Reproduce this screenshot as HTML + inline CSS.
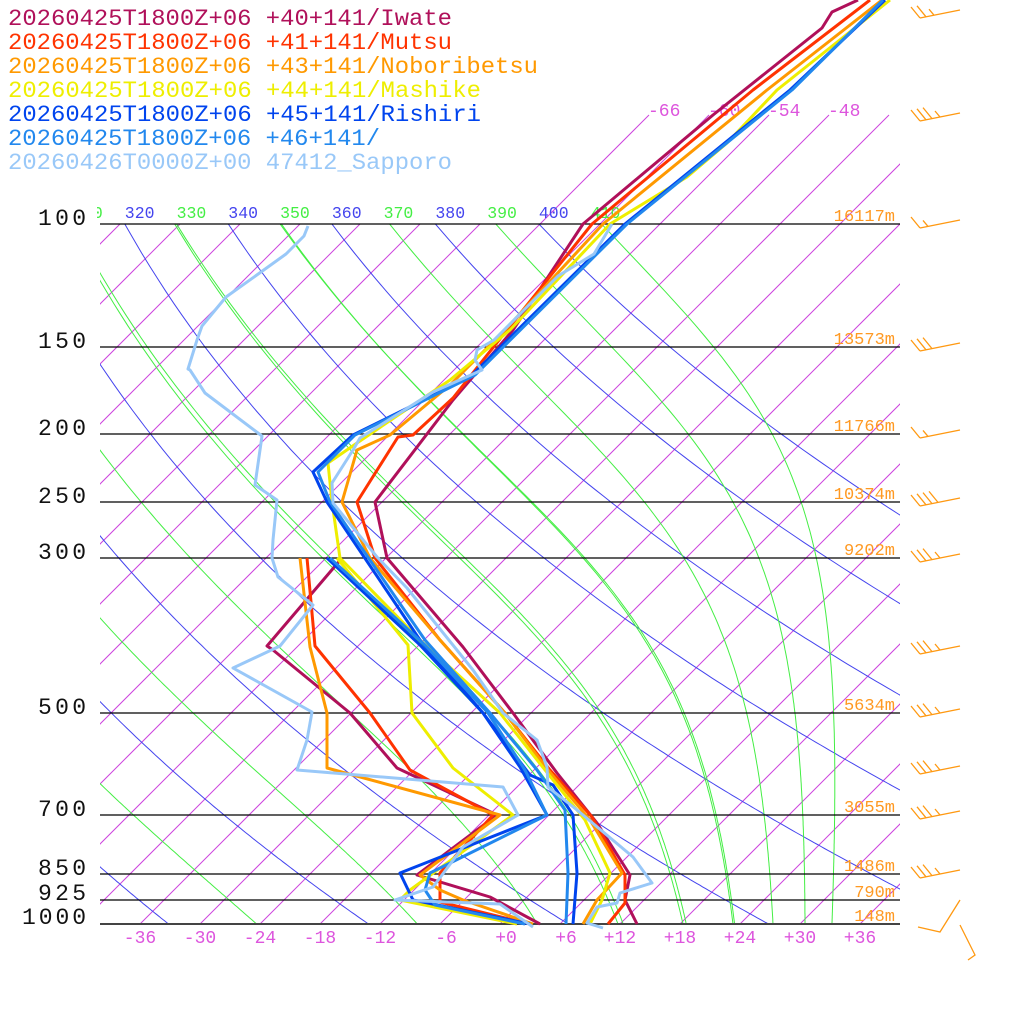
<!DOCTYPE html>
<html><head><meta charset="utf-8">
<style>
html,body{margin:0;padding:0;background:#fff;}
svg{display:block;}
text{font-family:"Liberation Mono","DejaVu Sans Mono",monospace;}
</style></head>
<body>
<svg id="s" width="1024" height="1024" viewBox="0 0 1024 1024" xmlns="http://www.w3.org/2000/svg">
<defs>
<clipPath id="plot"><rect x="100" y="224" width="800" height="700"/></clipPath>
<clipPath id="plotIso"><rect x="100" y="110" width="800" height="814"/></clipPath>
<clipPath id="thl"><rect x="97" y="190" width="803" height="40"/></clipPath>
</defs>
<g id="grid"></g>
<g id="hl" stroke="#000" stroke-width="1.3">
<line x1="100" y1="224" x2="900" y2="224"/>
<line x1="100" y1="347" x2="900" y2="347"/>
<line x1="100" y1="434" x2="900" y2="434"/>
<line x1="100" y1="502" x2="900" y2="502"/>
<line x1="100" y1="558" x2="900" y2="558"/>
<line x1="100" y1="713" x2="900" y2="713"/>
<line x1="100" y1="815" x2="900" y2="815"/>
<line x1="100" y1="874" x2="900" y2="874"/>
<line x1="100" y1="900" x2="900" y2="900"/>
<line x1="100" y1="924" x2="900" y2="924" stroke="#444" stroke-width="2"/>
</g>
<g font-size="23" fill="#111" lengthAdjust="spacingAndGlyphs">
<text x="38" y="225" textLength="48">100</text>
<text x="38" y="348" textLength="48">150</text>
<text x="38" y="435" textLength="48">200</text>
<text x="38" y="503" textLength="48">250</text>
<text x="38" y="559" textLength="48">300</text>
<text x="38" y="714" textLength="48">500</text>
<text x="38" y="816" textLength="48">700</text>
<text x="38" y="875" textLength="48">850</text>
<text x="38" y="900" textLength="48">925</text>
<text x="22" y="924" textLength="64">1000</text>
</g>
<g font-size="18" fill="#dd55dd" text-anchor="middle">
<text x="140" y="943">-36</text><text x="200" y="943">-30</text><text x="260" y="943">-24</text>
<text x="320" y="943">-18</text><text x="380" y="943">-12</text><text x="446" y="943">-6</text>
<text x="506" y="943">+0</text><text x="566" y="943">+6</text><text x="620" y="943">+12</text>
<text x="680" y="943">+18</text><text x="740" y="943">+24</text><text x="800" y="943">+30</text>
<text x="860" y="943">+36</text>
</g>
<g font-size="18" fill="#dd55dd">
<text x="648" y="116">-66</text><text x="708" y="116">-60</text><text x="768" y="116">-54</text><text x="828" y="116">-48</text>
</g>
<g font-size="17" fill="#ff9922" text-anchor="end">
<text x="895" y="221">16117m</text><text x="895" y="344">13573m</text><text x="895" y="431">11766m</text>
<text x="895" y="499">10374m</text><text x="895" y="555">9202m</text><text x="895" y="710">5634m</text>
<text x="895" y="812">3055m</text><text x="895" y="871">1486m</text><text x="895" y="897">790m</text>
<text x="895" y="921">148m</text>
</g>
<g id="traces" fill="none" stroke-width="3" stroke-linejoin="round"></g>
<g id="barbs" stroke="#ff9911" stroke-width="1.3" fill="none"></g>
<g font-size="23">
<text x="8" y="25" fill="#b0105a" textLength="444" lengthAdjust="spacingAndGlyphs">20260425T1800Z+06 +40+141/Iwate</text>
<text x="8" y="49" fill="#ff3300" textLength="444" lengthAdjust="spacingAndGlyphs">20260425T1800Z+06 +41+141/Mutsu</text>
<text x="8" y="73" fill="#ff9900" textLength="530" lengthAdjust="spacingAndGlyphs">20260425T1800Z+06 +43+141/Noboribetsu</text>
<text x="8" y="97" fill="#eeee00" textLength="473" lengthAdjust="spacingAndGlyphs">20260425T1800Z+06 +44+141/Mashike</text>
<text x="8" y="121" fill="#0044ee" textLength="473" lengthAdjust="spacingAndGlyphs">20260425T1800Z+06 +45+141/Rishiri</text>
<text x="8" y="145" fill="#2288ee" textLength="372" lengthAdjust="spacingAndGlyphs">20260425T1800Z+06 +46+141/</text>
<text x="8" y="169" fill="#99c8f8" textLength="444" lengthAdjust="spacingAndGlyphs">20260426T0000Z+00 47412_Sapporo</text>
</g>
</svg>
<script>
(function(){
var NS="http://www.w3.org/2000/svg";
function el(tag,attrs,parent){var e=document.createElementNS(NS,tag);for(var k in attrs)e.setAttribute(k,attrs[k]);parent.appendChild(e);return e;}
function Y(p){return 924-304*Math.log(1000/p);}
function X(T,p){return 500+10*T+304*Math.log(1000/p);}
var grid=document.getElementById('grid');
var gi=el('g',{'clip-path':'url(#plotIso)',stroke:'#cc44dd','stroke-width':'1',fill:'none'},grid);
for(var T=-150;T<=40;T+=6){
  var ytop=(T>=-66)?115:224;
  var x1=500+10*T, y1=924, x2=x1+(924-ytop), y2=ytop;
  el('line',{x1:x1,y1:y1,x2:x2,y2:y2},gi);
}
var gd=el('g',{'clip-path':'url(#plot)','stroke-width':'1',fill:'none'},grid);
var gl=el('g',{'clip-path':'url(#thl)','font-size':'16.5'},grid);
function es(Tc){return 6.112*Math.exp(17.67*Tc/(Tc+243.5));}
function dTdp(Tk,p){var e=es(Tk-273.15),rs=0.622*e/(p-e);return (287*Tk+2.5e6*rs)/(1004+2.5e6*2.5e6*rs*0.622/(287*Tk*Tk))/p;}
for(var th=200;th<=400;th+=20){
  var pts=[];
  for(var p=1000;p>=99.9;p-=5){var Tk=th*Math.pow(p/1000,0.286);pts.push(X(Tk-273.15,p).toFixed(1)+','+Y(p).toFixed(1));}
  el('polyline',{points:pts.join(' '),stroke:'#4444ee'},gd);
}
for(var th=190;th<=350;th+=20){
  var Tk=th*Math.pow(0.1,0.286),p=100,pts=[];
  while(p<=1000){
    if(Math.round(p)%5==0)pts.push(X(Tk-273.15,p).toFixed(1)+','+Y(p).toFixed(1));
    Tk+=dTdp(Tk,p);p+=1;
  }
  el('polyline',{points:pts.join(' '),stroke:'#44ee44'},gd);
}
[11.8,18.3,23.3,27.3,30.5,33.2].forEach(function(T0){
  var Tk=T0+273.15,pts=[],p=1000;
  while(p>=100){
    if(Math.round(p)%5==0)pts.push(X(Tk-273.15,p).toFixed(1)+','+Y(p).toFixed(1));
    Tk-=dTdp(Tk,p);p-=1;
  }
  el('polyline',{points:pts.join(' '),stroke:'#44ee44'},gd);
});
for(var th=310;th<=410;th+=10){
  var xl=X(th*Math.pow(0.1,0.286)-273.15,100);
  var col=((th/10)%2==0)?'#4444ee':'#44ee44';
  var t=el('text',{x:xl.toFixed(1),y:218,fill:col},gl);t.textContent=String(th);
}
var tr=document.getElementById('traces');
var S=[
 ['#b0105a',[[858,0],[832,12],[822,28],[713,115],[583,224],[513,330],[453,400],[375,502],[387,558],[463,647],[513,713],[557,773],[597,823],[630,875],[625,900],[637,924]],
   [[342,558],[267,646],[273,650],[350,713],[397,768],[497,815],[417,875],[490,897],[540,924]]],
 ['#ff3300',[[870,0],[753,90],[592,224],[507,330],[453,398],[413,435],[398,437],[357,502],[375,558],[440,640],[505,713],[550,770],[592,817],[625,875],[625,903],[608,924]],
   [[307,558],[315,646],[370,713],[410,770],[493,815],[440,873],[440,902],[530,924]]],
 ['#ff9900',[[882,0],[767,90],[603,224],[505,330],[450,385],[390,435],[357,450],[342,502],[370,558],[440,640],[505,713],[548,770],[590,820],[622,873],[597,900],[583,924]],
   [[300,558],[310,647],[327,713],[327,768],[500,815],[420,875],[440,890],[463,900],[533,924]]],
 ['#eeee00',[[890,0],[777,90],[727,143],[687,177],[610,224],[510,330],[450,380],[357,443],[328,463],[332,502],[340,558],[420,640],[500,713],[545,770],[585,820],[610,873],[602,900],[590,924]],
   [[337,558],[408,645],[412,713],[453,768],[513,815],[410,890],[400,900],[517,924]]],
 ['#0044ee',[[885,0],[790,90],[625,224],[470,377],[353,435],[313,472],[327,502],[420,640],[483,713],[530,775],[553,785],[573,815],[577,873],[573,924]],
   [[327,558],[420,645],[483,713],[520,767],[547,815],[400,873],[413,900],[530,924]]],
 ['#2288ee',[[883,0],[792,90],[627,224],[475,375],[355,435],[318,472],[330,502],[425,640],[490,713],[537,770],[565,810],[568,873],[566,924]],
   [[330,558],[425,645],[488,713],[525,770],[547,815],[430,873],[425,890],[435,905],[525,924]]],
 ['#99c8f8',[[612,224],[594,254],[558,276],[526,308],[494,340],[477,350],[475,360],[482,370],[433,392],[360,438],[353,450],[332,483],[333,503],[377,557],[407,588],[473,670],[503,713],[537,740],[547,767],[548,787],[577,810],[633,857],[652,883],[620,893],[617,903],[597,907],[587,923],[603,928]],
   [[308,226],[304,236],[286,254],[261,272],[226,297],[202,326],[197,340],[188,369],[190,370],[205,393],[262,436],[255,485],[277,500],[273,540],[272,558],[278,577],[313,605],[280,646],[233,668],[312,712],[307,740],[297,770],[503,787],[518,815],[463,847],[433,887],[395,900],[500,904],[533,927]]]
];
S.forEach(function(s){
  el('polyline',{points:s[1].join(' '),stroke:s[0]},tr);
  el('polyline',{points:s[2].join(' '),stroke:s[0]},tr);
});
var gb=document.getElementById('barbs');
function barb(y,nf,nh){
  var x0=960,y0=y-4,x1=920,y1=y+4;
  el('line',{x1:x0,y1:y0,x2:x1,y2:y1},gb);
  for(var i=0;i<nf;i++){var bx=x1+i*6,by=y1-(i*6)*(8/40);el('line',{x1:bx,y1:by,x2:bx-9,y2:by-11},gb);}
  if(nh){var i2=nf,bx2=x1+i2*6+2,by2=y1-(i2*6+2)*(8/40);el('line',{x1:bx2,y1:by2,x2:bx2-5,y2:by2-6},gb);}
}
barb(14,2,1);barb(117,3,1);barb(224,1,1);barb(347,3,0);barb(434,1,1);barb(502,4,0);
barb(558,3,1);barb(650,3,1);barb(713,3,1);barb(770,3,1);barb(815,3,1);barb(874,3,1);
el('polyline',{points:'918,927 940,932 960,900'},gb);
el('polyline',{points:'960,925 975,955 968,960'},gb);
})();
</script>
</body></html>
